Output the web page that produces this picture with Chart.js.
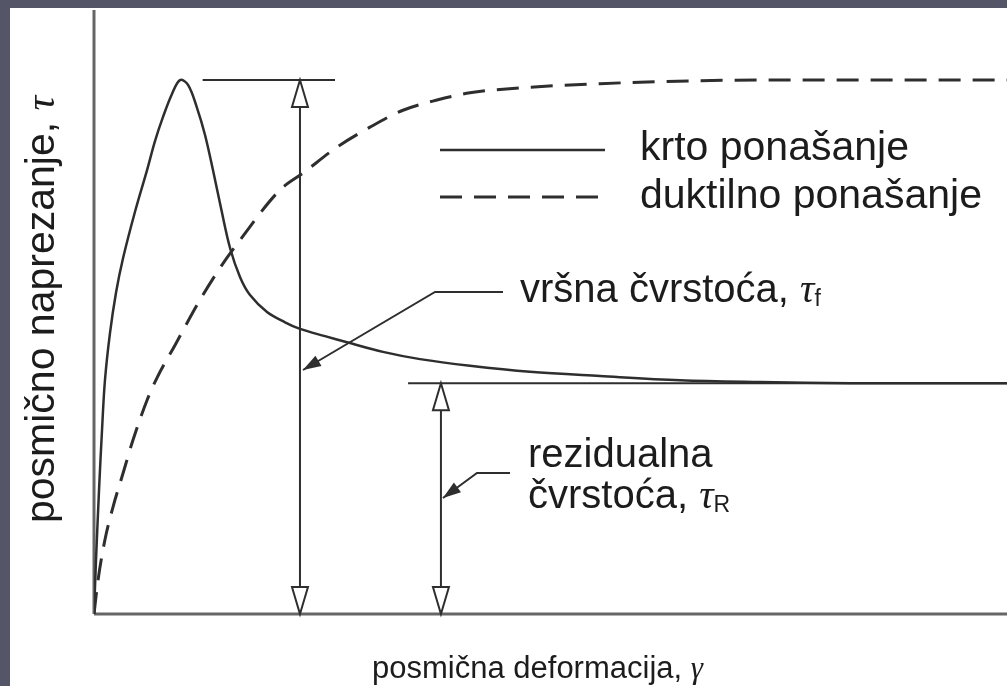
<!DOCTYPE html>
<html>
<head>
<meta charset="utf-8">
<script src="https://cdn.jsdelivr.net/npm/chart.js@4.4.0/dist/chart.umd.min.js"></script>
<style>
  html, body { margin: 0; padding: 0; background: #545567; overflow: hidden; }
  #wrap { position: absolute; left: 10px; top: 8px; width: 997px; height: 678px; background: #fff; }
</style>
</head>
<body>
<div id="wrap"><canvas id="myChart" width="997" height="678"></canvas></div>
<script>
// krto ponasanje - puna linija
var krtoX = [0, 0.22, 0.55, 0.88, 1.2, 1.75, 2.41, 3.18, 4.49, 5.81, 6.68, 7.56, 8.54, 9.42, 10.3, 11.28, 12.16, 13.03, 13.91, 14.9, 15.99, 17.09, 18.95, 20.92, 22.56, 25.3, 27.71, 31.65, 35.71, 41.18, 47.75, 55.42, 64.18, 72.95, 82.8, 100];
var krtoY = [0, 8.9, 20.5, 30.5, 38.7, 46.5, 53.2, 58.9, 66.6, 73.5, 78.3, 82.3, 86.1, 88.4, 87.6, 83.8, 79.3, 73.5, 67.2, 60.6, 55.8, 52.8, 50.0, 48.3, 47.2, 46.0, 45.0, 43.4, 42.2, 41.1, 40.1, 39.4, 38.7, 38.4, 38.2, 38.2];

// duktilno ponasanje - isprekidana linija
var duktX = [0, 0.44, 1.2, 2.08, 3.18, 4.27, 5.81, 6.9, 8.87, 11.61, 13.8, 15.99, 20.37, 22.89, 26.62, 30.23, 33.84, 37.57, 41.18, 46.66, 55.42, 66.37, 77.33, 100];
var duktY = [0, 5.6, 12.3, 17.7, 23.3, 28.8, 35.4, 39.1, 44.5, 52.0, 57.3, 61.9, 70.2, 73.0, 77.3, 80.6, 83.4, 85.1, 86.3, 87.1, 87.8, 88.3, 88.4, 88.4];

// razine cvrstoce i polozaj strelica
var vrsna = 88.4;
var rezid = 38.2;
var strelicaF = 22.56;
var strelicaR = 38.0;

var crta = '#2e2e2e';
var tekst = '#1c1c1c';
var sans = '"Liberation Sans", Arial, sans-serif';
var serif = '"Liberation Serif", "Times New Roman", serif';

function tocke(xs, ys) {
  return xs.map(function (x, i) { return { x: x, y: ys[i] }; });
}

function linija(ctx, x1, y1, x2, y2) {
  ctx.beginPath();
  ctx.moveTo(x1, y1);
  ctx.lineTo(x2, y2);
  ctx.stroke();
}

// prazna trokutasta glava strelice (smjer: -1 gore, 1 dolje)
function praznaGlava(ctx, x, y, smjer) {
  ctx.beginPath();
  ctx.moveTo(x, y);
  ctx.lineTo(x - 8, y - smjer * 27);
  ctx.lineTo(x + 8, y - smjer * 27);
  ctx.closePath();
  ctx.fillStyle = '#fff';
  ctx.fill();
  ctx.stroke();
}

// puna glava strelice na kraju voditelja
function punaGlava(ctx, x0, y0, x1, y1) {
  var a = Math.atan2(y1 - y0, x1 - x0);
  var l = 18, w = 6;
  ctx.beginPath();
  ctx.moveTo(x1, y1);
  ctx.lineTo(x1 - l * Math.cos(a) + w * Math.sin(a), y1 - l * Math.sin(a) - w * Math.cos(a));
  ctx.lineTo(x1 - l * Math.cos(a) - w * Math.sin(a), y1 - l * Math.sin(a) + w * Math.cos(a));
  ctx.closePath();
  ctx.fillStyle = crta;
  ctx.fill();
}

// tekst s grckim slovom i indeksom
function oznaka(ctx, x, y, t, grcko, indeks, vel) {
  ctx.font = vel + 'px ' + sans;
  ctx.fillText(t, x, y);
  x += ctx.measureText(t).width;
  ctx.font = 'italic ' + vel + 'px ' + serif;
  ctx.fillText(grcko, x, y);
  x += ctx.measureText(grcko).width;
  if (indeks) {
    ctx.font = Math.round(vel * 0.58) + 'px ' + sans;
    ctx.fillText(indeks, x, y + 4);
  }
}

var crtez = {
  id: 'crtez',
  beforeDatasetsDraw: function (chart) {
    var ctx = chart.ctx, a = chart.chartArea;
    ctx.save();
    ctx.strokeStyle = '#666';
    ctx.lineWidth = 3;
    linija(ctx, a.left, a.top, a.left, a.bottom);
    linija(ctx, a.left, a.bottom, a.right, a.bottom);
    ctx.restore();
  },
  afterDatasetsDraw: function (chart) {
    var ctx = chart.ctx, a = chart.chartArea;
    var sx = chart.scales.x, sy = chart.scales.y;
    var yV = sy.getPixelForValue(vrsna), yR = sy.getPixelForValue(rezid);
    var xF = sx.getPixelForValue(strelicaF), xR = sx.getPixelForValue(strelicaR);
    ctx.save();
    ctx.strokeStyle = crta;
    ctx.lineWidth = 2;

    // vodoravne crte razina
    linija(ctx, sx.getPixelForValue(11.9), yV, sx.getPixelForValue(26.4), yV);
    linija(ctx, sx.getPixelForValue(34.4), yR, a.right, yR);

    // dvostruke strelice
    linija(ctx, xF, yV, xF, a.bottom);
    praznaGlava(ctx, xF, yV, -1);
    praznaGlava(ctx, xF, a.bottom, 1);
    linija(ctx, xR, yR, xR, a.bottom);
    praznaGlava(ctx, xR, yR, -1);
    praznaGlava(ctx, xR, a.bottom, 1);

    // voditelji oznaka
    ctx.beginPath();
    ctx.moveTo(493, 284);
    ctx.lineTo(425, 284);
    ctx.lineTo(xF + 3, 362);
    ctx.stroke();
    punaGlava(ctx, 425, 284, xF + 3, 362);

    ctx.beginPath();
    ctx.moveTo(500, 465);
    ctx.lineTo(467, 465);
    ctx.lineTo(xR + 2, 490);
    ctx.stroke();
    punaGlava(ctx, 467, 465, xR + 2, 490);

    // legenda
    ctx.lineWidth = 2.5;
    linija(ctx, 430, 142, 595, 142);
    ctx.lineWidth = 3;
    ctx.setLineDash([22, 12]);
    linija(ctx, 430, 189, 595, 189);
    ctx.setLineDash([]);

    ctx.fillStyle = tekst;
    ctx.textBaseline = 'alphabetic';
    ctx.font = '41px ' + sans;
    ctx.fillText('krto ponašanje', 630, 152);
    ctx.fillText('duktilno ponašanje', 630, 200);

    oznaka(ctx, 510, 294, 'vršna čvrstoća, ', 'τ', 'f', 40);
    ctx.font = '40px ' + sans;
    ctx.fillText('rezidualna', 518, 459);
    oznaka(ctx, 518, 500, 'čvrstoća, ', 'τ', 'R', 40);

    // nazivi osi
    oznaka(ctx, 362, 670, 'posmična deformacija, ', 'γ', '', 31);
    ctx.translate(44, 515);
    ctx.rotate(-Math.PI / 2);
    oznaka(ctx, 0, 0, 'posmično naprezanje, ', 'τ', '', 41);
    ctx.restore();
  }
};

var ctx = document.getElementById('myChart').getContext('2d');
var chart = new Chart(ctx, {
  type: 'line',
  data: {
    datasets: [{
      label: 'krto ponašanje',
      data: tocke(krtoX, krtoY),
      borderColor: crta,
      borderWidth: 2.5,
      pointRadius: 0,
      tension: 0.35,
      fill: false
    }, {
      label: 'duktilno ponašanje',
      data: tocke(duktX, duktY),
      borderColor: crta,
      borderWidth: 3,
      borderDash: [22, 12],
      pointRadius: 0,
      cubicInterpolationMode: 'monotone',
      fill: false
    }]
  },
  options: {
    responsive: false,
    animation: false,
    layout: { padding: { left: 84, top: 2, right: 0, bottom: 72 } },
    scales: {
      x: { type: 'linear', min: 0, max: 100, display: false },
      y: { type: 'linear', min: 0, max: 100, display: false }
    },
    plugins: {
      legend: { display: false },
      tooltip: { enabled: false }
    }
  },
  plugins: [crtez]
});
</script>
</body>
</html>
